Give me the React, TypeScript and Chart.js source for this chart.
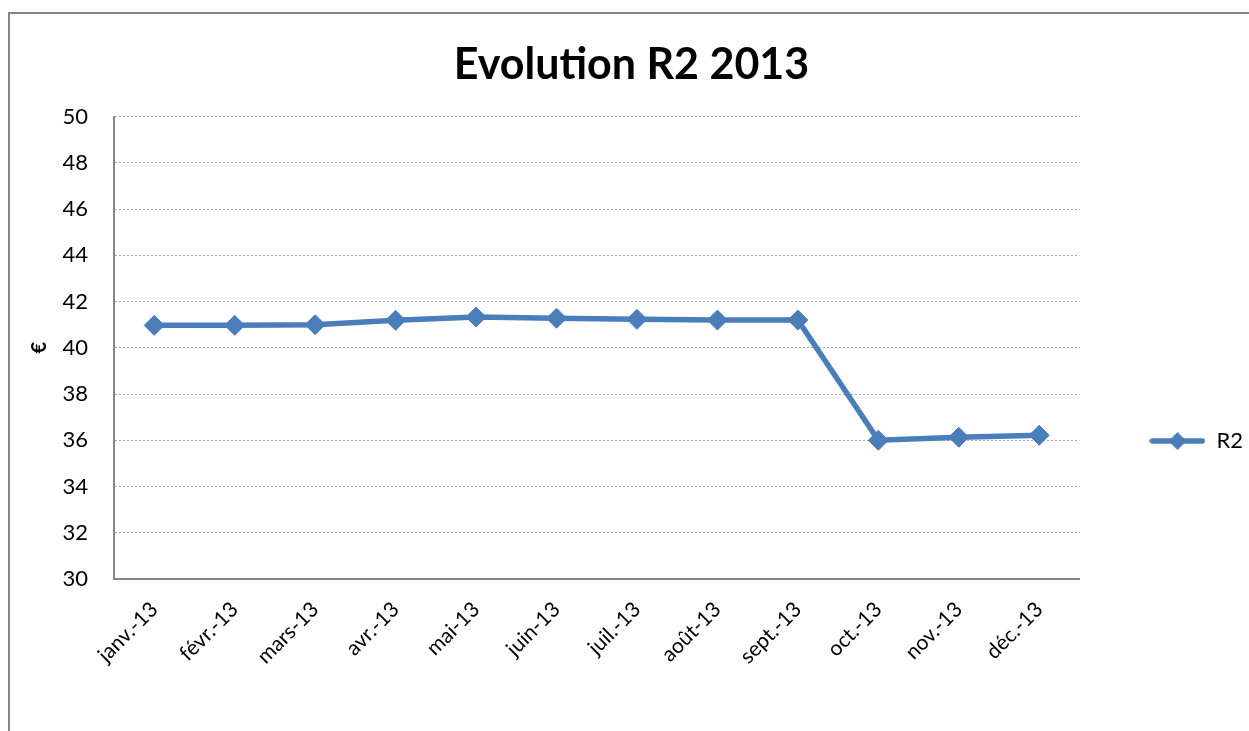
import React, { useEffect, useRef } from "react";
import { Chart, registerables } from "chart.js";

Chart.register(...registerables);

const categories = [
  "janv.-13",
  "févr.-13",
  "mars-13",
  "avr.-13",
  "mai-13",
  "juin-13",
  "juil.-13",
  "août-13",
  "sept.-13",
  "oct.-13",
  "nov.-13",
  "déc.-13",
];
const r2Values = [40.97, 40.97, 41.0, 41.19, 41.33, 41.28, 41.23, 41.2, 41.2, 36.0, 36.13, 36.22];
const seriesName = "R2";
const chartTitle = "Evolution R2 2013";
const yAxisTitle = "€";
const yMin = 30;
const yMax = 50;
const yStep = 2;

const LINE_COLOR = "#4A7EBB";
const FONT = "Lato, 'Open Sans', sans-serif";
const CANVAS_W = 1243;
const CANVAS_H = 854;
const PLOT_BOTTOM = 565;

function makeLegendImage(): HTMLCanvasElement {
  const c = document.createElement("canvas");
  c.width = 56;
  c.height = 22;
  const ctx = c.getContext("2d")!;
  ctx.strokeStyle = LINE_COLOR;
  ctx.lineWidth = 5.5;
  ctx.lineCap = "round";
  ctx.beginPath();
  ctx.moveTo(3, 11);
  ctx.lineTo(53, 11);
  ctx.stroke();
  ctx.fillStyle = LINE_COLOR;
  ctx.beginPath();
  ctx.moveTo(28 - 9, 11);
  ctx.lineTo(28, 2);
  ctx.lineTo(28 + 9, 11);
  ctx.lineTo(28, 20);
  ctx.closePath();
  ctx.fill();
  return c;
}

export default function App() {
  const ref = useRef<HTMLCanvasElement | null>(null);

  useEffect(() => {
    if (!ref.current) return;
    const legendImg = makeLegendImage();
    const chart = new Chart(ref.current, {
      type: "line",
      data: {
        labels: categories,
        datasets: [
          {
            label: seriesName,
            data: r2Values,
            borderColor: LINE_COLOR,
            backgroundColor: LINE_COLOR,
            borderWidth: 5.5,
            tension: 0,
            pointStyle: "rectRot",
            pointRadius: 10,
            pointHoverRadius: 10,
            pointBackgroundColor: LINE_COLOR,
            pointBorderColor: LINE_COLOR,
            pointBorderWidth: 1,
          },
        ],
      },
      options: {
        animation: false,
        responsive: false,
        devicePixelRatio: 1,
        layout: { padding: 0 },
        plugins: {
          title: {
            display: true,
            text: chartTitle,
            color: "#000",
            font: { family: FONT, size: 43, weight: "bold" },
            padding: { top: 25, bottom: 26 },
          },
          legend: {
            position: "right",
            labels: {
              usePointStyle: true,
              pointStyle: legendImg as any,
              pointStyleWidth: 56,
              padding: 70,
              color: "#000",
              font: { family: FONT, size: 22 },
            },
          },
          tooltip: { enabled: false },
        },
        scales: {
          x: {
            offset: true,
            grid: { display: true, drawOnChartArea: false, drawTicks: false },
            border: { display: true, color: "#868686", width: 2 },
            ticks: {
              color: "#000",
              font: { family: FONT, size: 21 },
              minRotation: 45,
              maxRotation: 45,
              padding: 18,
            },
            afterFit: (scale: any) => {
              scale.height = CANVAS_H - PLOT_BOTTOM;
            },
          },
          y: {
            min: yMin,
            max: yMax,
            grid: { color: "#a8a8a8", lineWidth: 1, drawTicks: false },
            border: { display: true, color: "#868686", width: 2, dash: [2, 2] },
            ticks: {
              stepSize: yStep,
              color: "#000",
              font: { family: FONT, size: 22 },
              padding: 26,
            },
            title: {
              display: true,
              text: yAxisTitle,
              color: "#000",
              font: { family: FONT, size: 20, weight: "bold" },
              padding: { top: 18, bottom: 0 },
            },
            afterFit: (scale: any) => {
              scale.width = 104;
            },
          },
        },
      },
    });
    return () => chart.destroy();
  }, []);

  return (
    <div
      style={{
        position: "fixed",
        left: 8,
        top: 12,
        width: CANVAS_W + 40,
        height: CANVAS_H + 20,
        border: "2px solid #868686",
        background: "#fff",
        boxSizing: "border-box",
      }}
    >
      <canvas
        ref={ref}
        width={CANVAS_W}
        height={CANVAS_H}
        style={{ display: "block", width: CANVAS_W, height: CANVAS_H }}
      />
    </div>
  );
}
